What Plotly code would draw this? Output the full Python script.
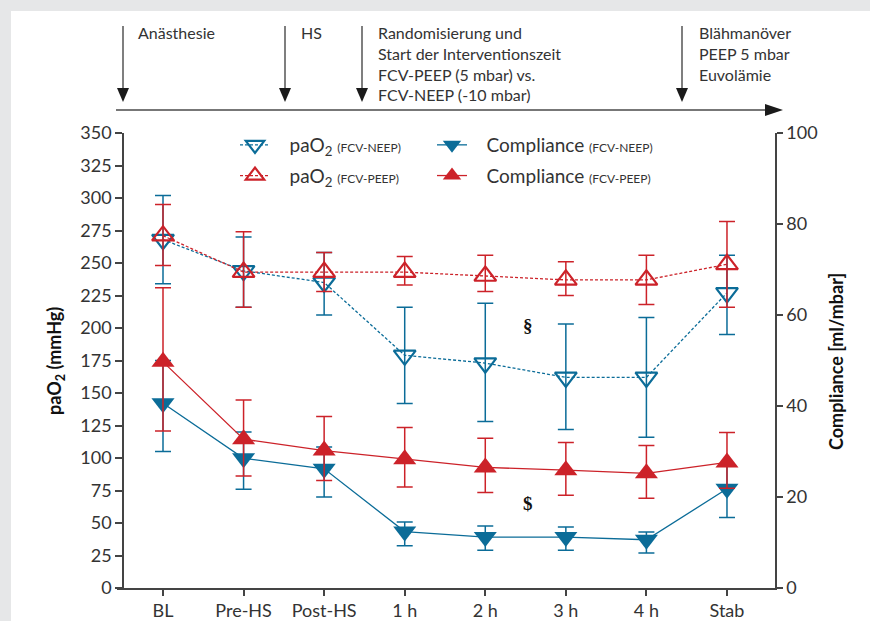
import plotly.graph_objects as go

# ---- data ----
categories = ["BL", "Pre-HS", "Post-HS", "1 h", "2 h", "3 h", "4 h", "Stab"]

pao2_neep = [268, 244, 235, 179, 173, 162, 162, 227]
pao2_neep_hi = [302, 270, 258, 216, 219, 203, 208, 256]
pao2_neep_lo = [234, 216, 210, 142, 128, 122, 116, 195]

pao2_peep = [271, 243, 243, 243, 240, 237, 237, 249]
pao2_peep_hi = [295, 274, 258, 255, 256, 251, 256, 282]
pao2_peep_lo = [248, 216, 228, 233, 228, 225, 218, 216]

comp_neep = [40.6, 28.5, 26.2, 12.4, 11.2, 11.2, 10.6, 21.8]
comp_neep_hi = [50.0, 34.3, 31.0, 14.5, 13.6, 13.4, 12.3, 27.2]
comp_neep_lo = [30.0, 21.7, 20.0, 9.3, 8.3, 8.3, 7.7, 15.5]

comp_peep = [49.7, 32.7, 30.2, 28.3, 26.5, 25.9, 25.2, 27.6]
comp_peep_hi = [66.0, 41.3, 37.7, 35.3, 32.9, 32.0, 31.3, 34.2]
comp_peep_lo = [34.5, 24.6, 23.6, 22.2, 21.0, 20.4, 19.7, 21.9]

BLUE = "#0b6c98"
RED = "#cc2229"
DARK = "#333333"
FONT = "Lato"

# ---- page geometry (pixels) ----
W, H = 870, 621
ML, MR, MT, MB = 117, 95, 133, 33
PW = W - ML - MR
PH = H - MT - MB


def px(x):
    return (x - ML) / PW


def py(y):
    return (H - MB - y) / PH


def err(vals, hi, lo):
    return dict(type="data", symmetric=False,
                array=[h - v for v, h in zip(vals, hi)],
                arrayminus=[v - l for v, l in zip(vals, lo)],
                thickness=1.5, width=8)


small = "<span style='font-size:12px'>"
pad = "&nbsp;&nbsp;&nbsp;"

fig = go.Figure()

fig.add_trace(go.Scatter(
    x=categories, y=pao2_neep, mode="lines+markers",
    name=pad + "paO<sub>2</sub> " + small + "(FCV-NEEP)</span>",
    legend="legend", legendgroup="a",
    line=dict(color=BLUE, width=1.3, dash="3px,2px"),
    marker=dict(symbol="triangle-down-open", size=19, color=BLUE,
                line=dict(width=2.2, color=BLUE)),
    error_y=dict(color=BLUE, **err(pao2_neep, pao2_neep_hi, pao2_neep_lo)),
))
fig.add_trace(go.Scatter(
    x=categories, y=pao2_peep, mode="lines+markers",
    name=pad + "paO<sub>2</sub> " + small + "(FCV-PEEP)</span>",
    legend="legend", legendgroup="b",
    line=dict(color=RED, width=1.3, dash="3px,2px"),
    marker=dict(symbol="triangle-up-open", size=19, color=RED,
                line=dict(width=2.2, color=RED)),
    error_y=dict(color=RED, **err(pao2_peep, pao2_peep_hi, pao2_peep_lo)),
))
fig.add_trace(go.Scatter(
    x=categories, y=comp_neep, yaxis="y2", mode="lines+markers",
    name=pad + "Compliance " + small + "(FCV-NEEP)</span>",
    legend="legend2", legendgroup="c",
    line=dict(color=BLUE, width=1.3),
    marker=dict(symbol="triangle-down", size=20, color=BLUE),
    error_y=dict(color=BLUE, **err(comp_neep, comp_neep_hi, comp_neep_lo)),
))
fig.add_trace(go.Scatter(
    x=categories, y=comp_peep, yaxis="y2", mode="lines+markers",
    name=pad + "Compliance " + small + "(FCV-PEEP)</span>",
    legend="legend2", legendgroup="d",
    line=dict(color=RED, width=1.3),
    marker=dict(symbol="triangle-up", size=20, color=RED),
    error_y=dict(color=RED, **err(comp_peep, comp_peep_hi, comp_peep_lo)),
))

# ---- background panel and timeline arrows ----
shapes = [
    dict(type="rect", xref="paper", yref="paper", layer="below",
         x0=px(11), x1=px(W + 5), y0=py(11), y1=py(H + 5),
         fillcolor="white", line=dict(width=0)),
]

event_x = [123, 285, 362, 682]
for ex in event_x:
    shapes.append(dict(type="line", xref="paper", yref="paper",
                       x0=px(ex), x1=px(ex), y0=py(26), y1=py(92),
                       line=dict(color="#555555", width=1.5)))
    shapes.append(dict(type="path", xref="paper", yref="paper",
                       path=f"M {px(ex-6)} {py(88)} L {px(ex+6)} {py(88)} L {px(ex)} {py(102)} Z",
                       fillcolor="#1a1a1a", line=dict(width=0)))

shapes.append(dict(type="line", xref="paper", yref="paper",
                   x0=px(116), x1=px(768), y0=py(110), y1=py(110),
                   line=dict(color="#777777", width=2)))
shapes.append(dict(type="path", xref="paper", yref="paper",
                   path=f"M {px(765)} {py(104)} L {px(783)} {py(110)} L {px(765)} {py(116)} Z",
                   fillcolor="#1a1a1a", line=dict(width=0)))

event_text = [
    (136, "Anästhesie"),
    (299, "HS"),
    (376, "Randomisierung und<br>Start der Interventionszeit<br>FCV-PEEP (5 mbar) vs.<br>FCV-NEEP (-10 mbar)"),
    (697, "Blähmanöver<br>PEEP 5 mbar<br>Euvolämie"),
]

annotations = []
for tx, txt in event_text:
    annotations.append(dict(xref="paper", yref="paper", x=px(tx), y=py(21),
                            xanchor="left", yanchor="top", align="left",
                            text=txt, showarrow=False,
                            font=dict(family=FONT, size=16, color=DARK)))

# axis titles
annotations.append(dict(xref="paper", yref="paper", x=px(55), y=py(361),
                        text="<b>paO<sub>2</sub> (mmHg)</b>", textangle=-90,
                        showarrow=False, xanchor="center", yanchor="middle",
                        font=dict(family=FONT, size=18, color="#111111")))
annotations.append(dict(xref="paper", yref="paper", x=px(836), y=py(362),
                        text="<b>Compliance [ml/mbar]</b>", textangle=-90,
                        showarrow=False, xanchor="center", yanchor="middle",
                        font=dict(family=FONT, size=18, color="#111111")))

# significance markers
annotations.append(dict(xref="x", yref="y", x=4.53, y=202, text="<b>§</b>",
                        showarrow=False,
                        font=dict(family="Liberation Serif", size=19, color="#111111")))
annotations.append(dict(xref="x", yref="y", x=4.53, y=65, text="<b>$</b>",
                        showarrow=False,
                        font=dict(family="Liberation Serif", size=19, color="#111111")))

axis_line = "#444444"
tickfont = dict(family=FONT, size=18, color=DARK)
legend_common = dict(orientation="v", xanchor="left", yanchor="top",
                     font=dict(family=FONT, size=19, color=DARK),
                     bgcolor="rgba(0,0,0,0)", tracegroupgap=3)

fig.update_layout(
    width=W, height=H,
    margin=dict(l=ML, r=MR, t=MT, b=MB, pad=0, autoexpand=False),
    paper_bgcolor="#e6e7e8",
    plot_bgcolor="white",
    font=dict(family=FONT, color=DARK),
    shapes=shapes,
    annotations=annotations,
    showlegend=True,
    legend=dict(x=px(235), y=py(126), **legend_common),
    legend2=dict(x=px(432), y=py(126), **legend_common),
    xaxis=dict(type="category", range=[-0.571, 7.596], showgrid=False, zeroline=False,
               automargin=False,
               showline=True, linecolor=axis_line, linewidth=1.5,
               ticks="outside", ticklen=6, tickcolor=axis_line, tickwidth=1.5,
               tickfont=tickfont),
    yaxis=dict(range=[0, 350], dtick=25, showgrid=False, zeroline=False,
               automargin=False, anchor="free", position=px(123),
               showline=True, linecolor=axis_line, linewidth=1.5,
               ticks="outside", ticklen=7, tickcolor=axis_line, tickwidth=1.5,
               tickfont=tickfont),
    yaxis2=dict(range=[0, 100], dtick=20, overlaying="y", side="right", anchor="x",
                automargin=False, showgrid=False, zeroline=False,
                showline=True, linecolor=axis_line, linewidth=1.5,
                ticks="outside", ticklen=6, tickcolor=axis_line, tickwidth=1.5,
                tickfont=tickfont),
)

fig.write_html("out.html")
